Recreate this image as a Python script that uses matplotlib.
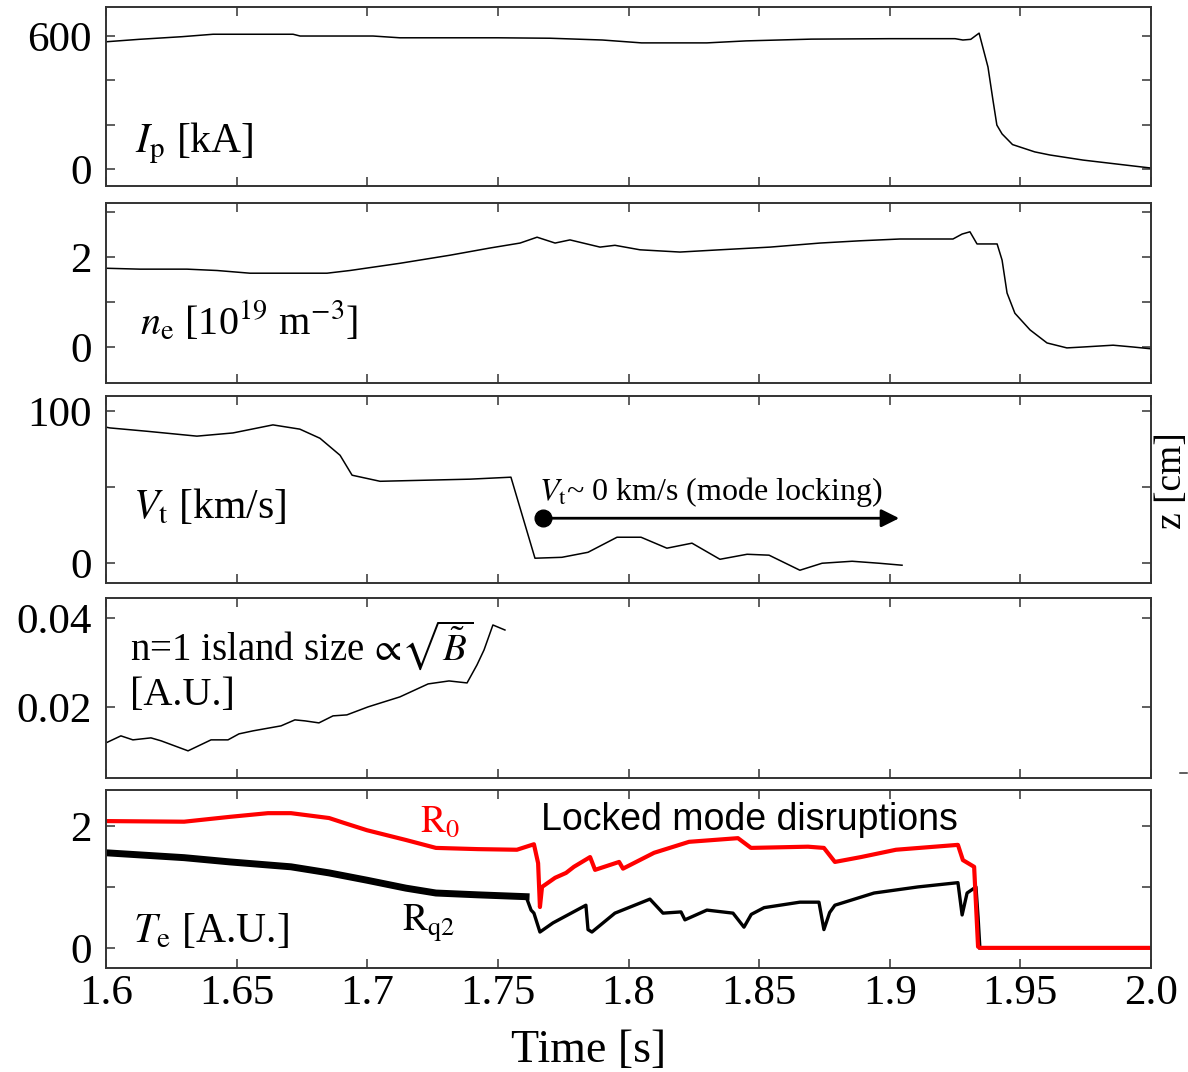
import matplotlib
matplotlib.use("Agg")
import matplotlib.pyplot as plt
from matplotlib.lines import Line2D

plt.rcParams['font.family'] = ['Liberation Serif', 'DejaVu Serif']
plt.rcParams['mathtext.fontset'] = 'stix'

# ---- data ----
# plasma current [kA]
ip_t = [1.600, 1.6126, 1.6291, 1.641, 1.6716, 1.6743, 1.7022, 1.7125, 1.750, 1.770,
        1.790, 1.805, 1.830, 1.845, 1.870, 1.900, 1.925, 1.928, 1.931, 1.9342,
        1.9376, 1.9395, 1.941, 1.943, 1.947, 1.9555, 1.9613, 1.974, 1.987, 2.000]
ip = [574, 585, 597, 608, 608, 600, 600, 592, 592, 590,
      582, 569, 569, 578, 586, 588, 588, 582, 585, 613,
      460, 311, 198, 158, 110, 77, 63, 40, 22, 4]

# electron density [1e19 m^-3]
ne_t = [1.600, 1.613, 1.631, 1.6425, 1.6551, 1.6846, 1.6934, 1.7125, 1.7317, 1.747,
        1.7585, 1.765, 1.7719, 1.7776, 1.7891, 1.7948, 1.8044, 1.8197, 1.835, 1.8542,
        1.8733, 1.8886, 1.9039, 1.9242, 1.9277, 1.9307, 1.9334, 1.9411, 1.943, 1.9449,
        1.9479, 1.9537, 1.9602, 1.9678, 1.974, 1.9855, 1.9931, 2.000]
ne = [1.75, 1.73, 1.73, 1.70, 1.64, 1.64, 1.70, 1.86, 2.04, 2.20,
      2.31, 2.44, 2.31, 2.38, 2.22, 2.26, 2.16, 2.11, 2.16, 2.22,
      2.31, 2.36, 2.40, 2.40, 2.51, 2.56, 2.29, 2.29, 1.93, 1.20,
      0.75, 0.38, 0.09, -0.02, 0.00, 0.04, 0.00, -0.04]

# toroidal rotation [km/s]
vt_t = [1.600, 1.6015, 1.6157, 1.6348, 1.6486, 1.6639, 1.6742, 1.6819, 1.6896, 1.6942,
        1.7049, 1.7393, 1.755, 1.7642, 1.7745, 1.7845, 1.7956, 1.8048, 1.8147, 1.8243,
        1.835, 1.8454, 1.8538, 1.8656, 1.8741, 1.8856, 1.8959, 1.9047]
vt = [89.5, 89.0, 86.8, 83.6, 85.7, 91.0, 88.2, 82.2, 71.0, 57.9,
      53.9, 55.3, 56.6, 3.3, 3.9, 7.2, 17.1, 17.1, 9.9, 13.2,
      2.6, 5.9, 5.3, -4.6, 0.0, 1.3, 0.0, -1.3]

# n=1 island size [A.U.]
isl_t = [1.600, 1.6057, 1.6103, 1.6172, 1.6211, 1.6314, 1.6402, 1.6467, 1.6509, 1.6563,
         1.667, 1.6723, 1.6762, 1.6815, 1.6869, 1.6922, 1.7003, 1.7125, 1.7233, 1.7313,
         1.7382, 1.742, 1.7447, 1.7481, 1.7527]
isl = [0.0119, 0.01348, 0.01258, 0.01303, 0.01236, 0.01011, 0.01258, 0.01258, 0.01393, 0.01461,
       0.01573, 0.01708, 0.01685, 0.0164, 0.01798, 0.0182, 0.0200, 0.02225, 0.02517, 0.02584,
       0.02539, 0.02944, 0.03281, 0.03843, 0.0373]

# electron temperature at R0 [A.U.]
r0_t = [1.600, 1.6299, 1.6475, 1.662, 1.6708, 1.6854, 1.6911, 1.6999, 1.7148, 1.7263,
        1.7424, 1.7573, 1.7638, 1.7654, 1.7661, 1.7669, 1.7719, 1.7761, 1.7791, 1.7853,
        1.7872, 1.7964, 1.7979, 1.8098, 1.8232, 1.8419, 1.8469, 1.8687, 1.8748, 1.879,
        1.889, 1.9024, 1.9261, 1.928, 1.9323, 1.9338, 1.9345, 2.000]
r0 = [2.08, 2.07, 2.15, 2.21, 2.21, 2.13, 2.05, 1.93, 1.77, 1.64,
      1.62, 1.61, 1.70, 1.39, 0.67, 1.00, 1.15, 1.23, 1.33, 1.49,
      1.28, 1.41, 1.30, 1.56, 1.74, 1.80, 1.64, 1.66, 1.64, 1.41,
      1.49, 1.61, 1.69, 1.44, 1.33, 0.02, 0.00, 0.00]

# electron temperature at Rq2 [A.U.]
rq2_t = [1.600, 1.6299, 1.6475, 1.6708, 1.6854, 1.6999, 1.7148, 1.7263, 1.7424, 1.7608,
         1.7627, 1.7638, 1.7661, 1.7711, 1.7837, 1.7845, 1.786, 1.7948, 1.8082, 1.8132,
         1.8201, 1.8216, 1.830, 1.840, 1.8442, 1.847, 1.8519, 1.8656, 1.8729, 1.8748,
         1.877, 1.879, 1.894, 1.9108, 1.9261, 1.9277, 1.9296, 1.933, 1.9338, 1.9345]
rq2 = [1.56, 1.48, 1.41, 1.33, 1.23, 1.11, 0.98, 0.90, 0.87, 0.84,
       0.62, 0.57, 0.26, 0.41, 0.70, 0.30, 0.26, 0.57, 0.80, 0.57,
       0.59, 0.46, 0.62, 0.57, 0.34, 0.55, 0.66, 0.75, 0.75, 0.30,
       0.58, 0.70, 0.90, 1.00, 1.07, 0.54, 0.90, 1.00, 0.51, 0.00]

# mode locking arrow
lock_t0, lock_t1, lock_v = 1.7673, 1.9036, 29.6

xtick_vals = [1.6, 1.65, 1.7, 1.75, 1.8, 1.85, 1.9, 1.95, 2.0]
xtick_labels = ['1.6', '1.65', '1.7', '1.75', '1.8', '1.85', '1.9', '1.95', '2.0']

# ---- figure ----
W, H = 1188, 1072
fig = plt.figure(figsize=(W / 100, H / 100), dpi=100)

panels = [(7, 186), (203, 383), (396, 583), (598, 778), (790, 968)]
axes = []
for top, bot in panels:
    ax = fig.add_axes([106 / W, 1 - bot / H, 1045 / W, (bot - top) / H])
    ax.set_xlim(1.6, 2.0)
    ax.set_xticks(xtick_vals)
    ax.tick_params(direction='in', top=True, right=True, length=6.5, width=1.1,
                   color='#333333', labelsize=31)
    ax.tick_params(axis='y', pad=10)
    ax.tick_params(axis='x', pad=5)
    for sp in ax.spines.values():
        sp.set_linewidth(1.4)
        sp.set_color('#333333')
    axes.append(ax)

for ax in axes[:-1]:
    ax.set_xticklabels([])
axes[-1].set_xticklabels(xtick_labels)

lw_thin = 1.1

# Ip
ax = axes[0]
ax.plot(ip_t, ip, color='black', lw=lw_thin)
ax.set_ylim(-77, 731)
ax.set_yticks([0, 200, 400, 600])
ax.set_yticklabels(['0', '', '', '600'])
ax.text(0.028, 0.19, r'$I_\mathrm{p}$ [kA]', transform=ax.transAxes, fontsize=30, va='baseline')

# ne
ax = axes[1]
ax.plot(ne_t, ne, color='black', lw=lw_thin)
ax.set_ylim(-0.8, 3.2)
ax.set_yticks([0, 1, 2, 3])
ax.set_yticklabels(['0', '', '2', ''])
ax.text(0.0325, 0.267, r'$n_\mathrm{e}$ [10$^{19}$ m$^{\mathrm{-}3}$]', transform=ax.transAxes,
        fontsize=29, va='baseline')

# Vt
ax = axes[2]
ax.plot(vt_t, vt, color='black', lw=lw_thin)
ax.set_ylim(-13, 110)
ax.set_yticks([0, 50, 100])
ax.set_yticklabels(['0', '', '100'])
ax.text(0.026, 0.348, r'$V_\mathrm{t}$ [km/s]', transform=ax.transAxes, fontsize=30, va='baseline')
ax.annotate('', xy=(lock_t1, lock_v), xytext=(lock_t0, lock_v),
            arrowprops=dict(arrowstyle='-|>', lw=2.0, color='black', mutation_scale=27,
                            shrinkA=0, shrinkB=0))
ax.plot([lock_t0], [lock_v], 'o', ms=12, color='black')
ax.text(1.7658, 41.4, r'$V_\mathrm{t}$' + '~ 0 km/s (mode locking)', fontsize=23, va='baseline')

# island size
ax = axes[3]
ax.plot(isl_t, isl, color='black', lw=lw_thin)
ax.set_ylim(0.004, 0.0445)
ax.set_yticks([0.02, 0.04])
ax.set_yticklabels(['0.02', '0.04'])
ax.text(0.023, 0.656, r'n=1 island size $\!\propto\!\sqrt{\tilde{B}}$', transform=ax.transAxes,
        fontsize=28, va='baseline')
ax.text(0.023, 0.406, '[A.U.]', transform=ax.transAxes, fontsize=29, va='baseline')

# Te
ax = axes[4]
split = 10
ax.plot(rq2_t[:split], rq2[:split], color='black', lw=5.0, solid_joinstyle='round')
ax.plot(rq2_t[split - 1:], rq2[split - 1:], color='black', lw=2.4)
ax.plot(r0_t, r0, color='#ff0000', lw=3.0)
ax.set_ylim(-0.33, 2.59)
ax.set_yticks([0, 1, 2])
ax.set_yticklabels(['0', '', '2'])
ax.text(0.026, 0.146, r'$T_\mathrm{e}$ [A.U.]', transform=ax.transAxes, fontsize=30, va='baseline')
ax.text(0.300, 0.764, r'$\mathrm{R}_0$', transform=ax.transAxes, fontsize=27,
        color='#ff0000', va='baseline')
ax.text(0.283, 0.208, r'$\mathrm{R}_\mathrm{q2}$', transform=ax.transAxes, fontsize=27,
        color='black', va='baseline')
ax.text(0.416, 0.775, 'Locked mode disruptions', transform=ax.transAxes, fontsize=27,
        family=['Liberation Sans', 'DejaVu Sans'], va='baseline')

fig.text(589 / W, 1 - 1062 / H, 'Time [s]', ha='center', va='baseline', fontsize=33)
fig.text(1172 / W, 1 - 481 / H, 'z [cm]', rotation=90, ha='center', va='center', fontsize=27)
fig.add_artist(Line2D([1180 / W, 1187 / W], [1 - 773 / H, 1 - 773 / H], color='#333333', lw=1.1))

fig.savefig('out.png', dpi=100)
